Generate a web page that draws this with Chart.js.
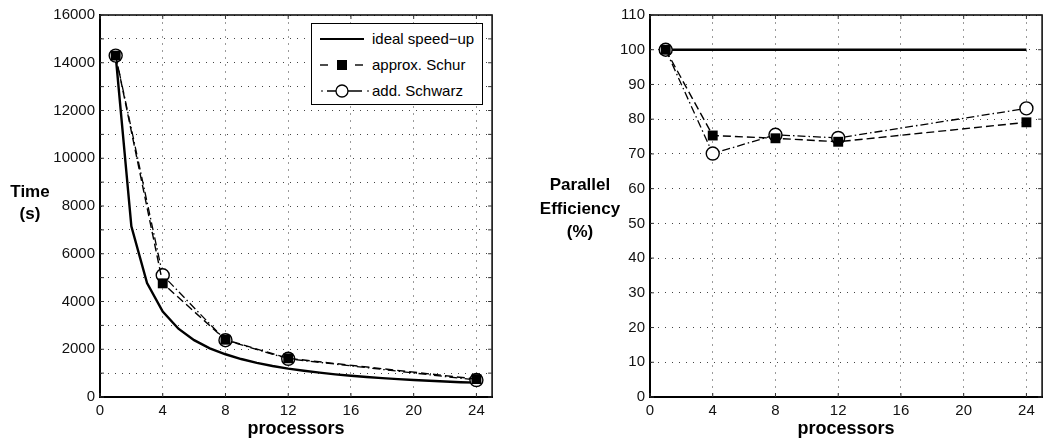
<!DOCTYPE html>
<html>
<head>
<meta charset="utf-8">
<script src="https://cdn.jsdelivr.net/npm/chart.js@4.4.1/dist/chart.umd.min.js"></script>
<style>
html, body { margin: 0; padding: 0; background: #fff; overflow: hidden; width: 1044px; height: 441px; }
.wrap { position: absolute; top: 0; height: 441px; }
.ytitle { position: absolute; font: bold 17px "Liberation Sans", Arial, sans-serif; text-align: center; color: #000; }
#legend { position: absolute; left: 311px; top: 23px; width: 170px; height: 80px; border: 1.5px solid #000; background: #fff; }
#legend .row { position: absolute; left: 0; height: 20px; width: 170px; }
#legend svg { position: absolute; left: 5px; top: 0; }
#legend span { position: absolute; left: 60px; top: 1px; font: 15px "Liberation Sans", Arial, sans-serif; color: #000; white-space: nowrap; }
</style>
</head>
<body>
<div class="wrap" style="left:0;width:500px"><canvas id="timeChart"></canvas></div>
<div class="wrap" style="left:520px;width:530px"><canvas id="effChart"></canvas></div>

<div class="ytitle" style="left:0;width:60px;top:181px;line-height:22px">Time<br>(s)</div>
<div class="ytitle" style="left:530px;width:100px;top:173px;line-height:23.5px">Parallel<br>Efficiency<br>(%)</div>

<div id="legend">
  <div class="row" style="top:4.5px">
    <svg width="56" height="20"><line x1="3" y1="10" x2="47" y2="10" stroke="#000" stroke-width="2.2"/></svg>
    <span>ideal speed&minus;up</span>
  </div>
  <div class="row" style="top:30.5px">
    <svg width="56" height="20">
      <line x1="3" y1="10" x2="11" y2="10" stroke="#000" stroke-width="1.4"/>
      <rect x="20" y="5" width="10" height="10" fill="#000"/>
      <line x1="38" y1="10" x2="46" y2="10" stroke="#000" stroke-width="1.4"/>
    </svg>
    <span>approx. Schur</span>
  </div>
  <div class="row" style="top:56.5px">
    <svg width="56" height="20">
      <line x1="4" y1="10" x2="6" y2="10" stroke="#000" stroke-width="1.2"/>
      <line x1="10" y1="10" x2="45" y2="10" stroke="#000" stroke-width="1.4"/>
      <circle cx="25" cy="10" r="6" fill="#fff" stroke="#000" stroke-width="1.3"/>
      <line x1="50" y1="10" x2="52" y2="10" stroke="#000" stroke-width="1.2"/>
    </svg>
    <span>add. Schwarz</span>
  </div>
</div>

<script>
// processor counts
const procs = [1, 4, 8, 12, 24];
const idealProcs = [1, 2, 3, 4, 5, 6, 7, 8, 9, 10, 11, 12, 13, 14, 15, 16, 17, 18, 19, 20, 21, 22, 23, 24];

// time (s)
const idealTime = [14300, 7150, 4770, 3580, 2860, 2380, 2040, 1790, 1590, 1430, 1300, 1190,
                   1100, 1020, 950, 890, 840, 790, 750, 715, 680, 650, 620, 600];
const schurTime = [14300, 4760, 2400, 1620, 750];
const schwarzTime = [14300, 5100, 2380, 1600, 710];

// parallel efficiency (%)
const idealEffProcs = [1, 24];
const idealEff = [100, 100];
const schurEff = [100, 75.3, 74.5, 73.5, 79.1];
const schwarzEff = [100, 70.1, 75.5, 74.6, 83.1];

const FONT = '"Liberation Sans", Arial, sans-serif';

function toXY(xs, ys) {
    return xs.map((x, i) => ({ x: x, y: ys[i] }));
}

// frame round the plot + small inner tick marks
const boxPlugin = {
    id: 'box',
    afterDraw(chart) {
        const ctx = chart.ctx;
        const a = chart.chartArea;
        ctx.save();
        ctx.strokeStyle = '#000';
        ctx.lineWidth = 1.5;
        ctx.strokeRect(a.left, a.top, a.right - a.left, a.bottom - a.top);
        ctx.lineWidth = 1;
        ctx.strokeStyle = '#333';
        ctx.beginPath();
        chart.scales.x.ticks.forEach(t => {
            const px = chart.scales.x.getPixelForValue(t.value);
            ctx.moveTo(px, a.bottom); ctx.lineTo(px, a.bottom - 4);
            ctx.moveTo(px, a.top); ctx.lineTo(px, a.top + 4);
        });
        chart.scales.y.ticks.forEach(t => {
            const py = chart.scales.y.getPixelForValue(t.value);
            ctx.moveTo(a.left, py); ctx.lineTo(a.left + 4, py);
            ctx.moveTo(a.right, py); ctx.lineTo(a.right - 4, py);
        });
        ctx.stroke();
        ctx.restore();
    }
};

function makeOptions(yMax, yStep, yWidth, padRight, labelEvery) {
    return {
        responsive: true,
        maintainAspectRatio: false,
        animation: false,
        layout: { padding: { top: 15, right: padRight, left: 0, bottom: 0 } },
        plugins: { legend: { display: false }, tooltip: { enabled: false } },
        scales: {
            x: {
                type: 'linear',
                min: 0, max: 25,
                ticks: { stepSize: 4, includeBounds: false, padding: 5, color: '#111',
                         font: { family: FONT, size: 15 } },
                grid: { color: '#9a9a9a', lineWidth: 1, drawTicks: false },
                border: { display: true, color: '#000', width: 2, dash: [2, 5] },
                title: { display: true, text: 'processors', color: '#000',
                         font: { family: FONT, size: 18, weight: 'bold' },
                         padding: { top: 0, bottom: 1 } },
                afterFit(scale) { scale.height = 44; }
            },
            y: {
                min: 0, max: yMax,
                ticks: { stepSize: yStep, padding: 5, color: '#111',
                         font: { family: FONT, size: 15 },
                         callback: v => (v % labelEvery === 0 ? v : '') },
                grid: { color: '#444', lineWidth: 1, drawTicks: false },
                border: { display: true, color: '#000', width: 2, dash: [1, 6] },
                afterFit(scale) { scale.width = yWidth; }
            }
        }
    };
}

const schurStyle = {
    borderColor: '#000', borderWidth: 1.4, borderDash: [8, 4],
    pointStyle: 'rect', pointRadius: 7, pointBackgroundColor: '#000',
    pointBorderColor: '#000', pointBorderWidth: 0, fill: false, tension: 0
};
const schwarzStyle = {
    borderColor: '#000', borderWidth: 1.3, borderDash: [8, 3, 1.5, 3],
    pointStyle: 'circle', pointRadius: 6.5, pointBackgroundColor: '#fff',
    pointBorderColor: '#000', pointBorderWidth: 1.4, fill: false, tension: 0
};
const idealStyle = {
    borderColor: '#000', borderWidth: 2.4, pointRadius: 0, fill: false, tension: 0
};

new Chart(document.getElementById('timeChart'), {
    type: 'line',
    data: {
        datasets: [
            Object.assign({ label: 'approx. Schur', data: toXY(procs, schurTime), order: 1 }, schurStyle),
            Object.assign({ label: 'add. Schwarz', data: toXY(procs, schwarzTime), order: 2 }, schwarzStyle),
            Object.assign({ label: 'ideal speed-up', data: toXY(idealProcs, idealTime), order: 3 }, idealStyle)
        ]
    },
    options: makeOptions(16000, 1000, 100, 7, 2000),
    plugins: [boxPlugin]
});

new Chart(document.getElementById('effChart'), {
    type: 'line',
    data: {
        datasets: [
            Object.assign({ label: 'approx. Schur', data: toXY(procs, schurEff), order: 1 }, schurStyle),
            Object.assign({ label: 'add. Schwarz', data: toXY(procs, schwarzEff), order: 2 }, schwarzStyle),
            Object.assign({ label: 'ideal speed-up', data: toXY(idealEffProcs, idealEff), order: 3 }, idealStyle)
        ]
    },
    options: makeOptions(110, 10, 130, 5, 10),
    plugins: [boxPlugin]
});
</script>
</body>
</html>
